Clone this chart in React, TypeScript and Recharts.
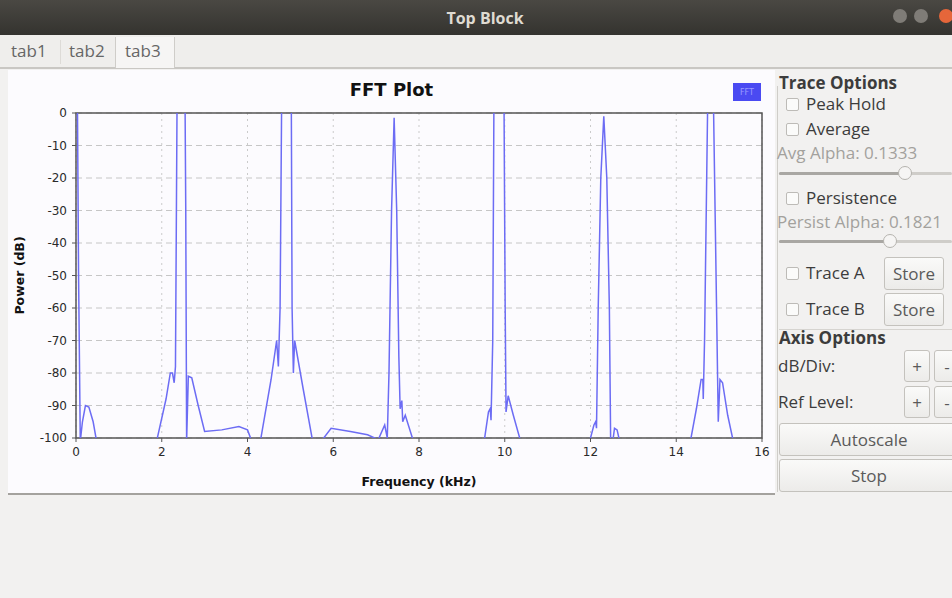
import React from 'react';
import {
  LineChart,
  Line,
  XAxis,
  YAxis,
  CartesianGrid,
  ReferenceArea,
} from 'recharts';

// FFT trace (kHz, dB). Values above 0 / below -100 are clipped by the plot.
const freqKHz = [
  0.0, 0.03, 0.06, 0.1, 0.15, 0.22, 0.3, 0.4, 0.48,
  1.88, 2.1, 2.2, 2.25, 2.29, 2.32, 2.36, 2.54, 2.56, 2.58, 2.62, 2.7, 2.85, 3.0, 3.4, 3.8, 4.0, 4.1,
  4.3, 4.55, 4.68, 4.72, 4.76, 4.8, 5.02, 5.04, 5.07, 5.1, 5.3, 5.52,
  5.72, 5.95, 6.4, 6.8, 7.05, 7.2, 7.26, 7.3, 7.36, 7.42, 7.48, 7.53, 7.56, 7.6, 7.62, 7.68, 7.87,
  9.52, 9.62, 9.66, 9.68, 9.72, 9.75, 9.98, 10.01, 10.03, 10.08, 10.2, 10.37,
  11.98, 12.08, 12.12, 12.14, 12.18, 12.24, 12.31, 12.38, 12.44, 12.47, 12.52, 12.56, 12.62, 12.68,
  14.33, 14.47, 14.58, 14.62, 14.63, 14.66, 14.74, 14.86, 14.94, 14.98, 15.02, 15.08, 15.2, 15.33, 16.0,
];
const powerDb = [
  10, 10, -50, -101, -95, -90, -90.5, -95, -101,
  -101, -88, -80, -80, -83, -78, 10, 10, -30, -101, -81, -81.5, -90, -98, -97.5, -96.5, -97.5, -101,
  -101, -82, -70, -78, -60, 10, 10, -60, -80, -70, -85, -101,
  -101, -97, -98, -99, -100.5, -96, -100, -80, -30, -1.5, -30, -75, -91, -88.5, -95, -93, -101,
  -101, -92, -91, -94.5, -70, 10, 10, -60, -92, -87, -93, -101,
  -101, -96, -95, -97, -60, -20, -1, -20, -60, -101, -101, -97, -97.5, -101,
  -101, -91, -82, -82, -88, -70, 10, 10, -60, -95, -82, -83, -93, -101, -101,
];
const xTicks = [0, 2, 4, 6, 8, 10, 12, 14, 16];
const yTicks = [0, -10, -20, -30, -40, -50, -60, -70, -80, -90, -100];

const data = freqKHz.map((f, i) => ({ f, p: powerDb[i] }));

const ui = '"Open Sans", "Noto Sans", sans-serif';
const plotFont = '"DejaVu Sans", sans-serif';

// text placed by its vertical centre
const Txt: React.FC<{ left: number; cy: number; size?: number; bold?: boolean; color?: string; children: React.ReactNode }> = ({
  left,
  cy,
  size = 17,
  bold,
  color = '#3c3c3c',
  children,
}) => (
  <div
    style={{
      position: 'absolute',
      left,
      top: cy - 12,
      height: 24,
      lineHeight: '24px',
      fontSize: size,
      fontWeight: bold ? 700 : 400,
      color,
      whiteSpace: 'nowrap',
    }}
  >
    {children}
  </div>
);

const Check: React.FC<{ cy: number; label: string }> = ({ cy, label }) => (
  <>
    <div
      style={{
        position: 'absolute',
        left: 786,
        top: cy - 6,
        width: 11,
        height: 11,
        border: '1px solid #bdbbb7',
        borderRadius: 2,
        background: '#fbfbfa',
      }}
    />
    <Txt left={806} cy={cy}>
      {label}
    </Txt>
  </>
);

const Button: React.FC<{ left: number; top: number; width: number; height: number; label: string }> = ({
  left,
  top,
  width,
  height,
  label,
}) => (
  <div
    style={{
      position: 'absolute',
      left,
      top,
      width,
      height,
      boxSizing: 'border-box',
      border: '1px solid #c4c2bd',
      borderRadius: 3,
      background: 'linear-gradient(#fafaf9, #ecebe9)',
      color: '#5a5a5a',
      fontSize: 17,
      display: 'flex',
      alignItems: 'center',
      justifyContent: 'center',
    }}
  >
    {label}
  </div>
);

const Slider: React.FC<{ top: number; handle: number }> = ({ top, handle }) => (
  <>
    <div
      style={{
        position: 'absolute',
        left: 779,
        top,
        width: 173,
        height: 3,
        background: '#cfcdc9',
        borderRadius: 2,
      }}
    />
    <div
      style={{
        position: 'absolute',
        left: 779,
        top,
        width: handle - 779,
        height: 3,
        background: '#a9a7a3',
        borderRadius: 2,
      }}
    />
    <div
      style={{
        position: 'absolute',
        left: handle - 7,
        top: top - 6,
        width: 14,
        height: 14,
        borderRadius: 7,
        boxSizing: 'border-box',
        border: '1px solid #b5b3ae',
        background: '#f6f5f4',
      }}
    />
  </>
);

export default function App() {
  return (
    <div
      style={{
        position: 'fixed',
        left: 0,
        top: 0,
        width: 952,
        height: 598,
        background: '#f2f1f0',
        fontFamily: ui,
        overflow: 'hidden',
      }}
    >
      {/* window title bar */}
      <div
        style={{
          position: 'absolute',
          left: 0,
          top: 0,
          width: 952,
          height: 35,
          background: 'linear-gradient(#4a4843, #34332f)',
          color: '#dfdbd2',
          fontWeight: 700,
          fontSize: 16,
          display: 'flex',
          alignItems: 'center',
          justifyContent: 'center',
          paddingLeft: 18,
          boxSizing: 'border-box',
        }}
      >
        Top Block
      </div>
      {[900, 921].map((cx) => (
        <div
          key={cx}
          style={{
            position: 'absolute',
            left: cx - 7,
            top: 9,
            width: 14,
            height: 14,
            borderRadius: 7,
            background: '#7f7c77',
          }}
        />
      ))}
      <div
        style={{
          position: 'absolute',
          left: 939,
          top: 9,
          width: 14,
          height: 14,
          borderRadius: 7,
          background: '#e5663a',
        }}
      />

      {/* tab bar */}
      <div
        style={{
          position: 'absolute',
          left: 0,
          top: 35,
          width: 952,
          height: 32,
          background: '#efeeec',
          borderBottom: '2px solid #c9c7c3',
        }}
      />
      <div
        style={{
          position: 'absolute',
          left: 115,
          top: 37,
          width: 58,
          height: 31,
          background: '#f6f5f4',
          borderLeft: '1px solid #cfcdc9',
          borderRight: '1px solid #cfcdc9',
        }}
      />
      <div style={{ position: 'absolute', left: 60, top: 40, width: 1, height: 24, background: '#dddbd7' }} />
      <Txt left={11} cy={51} size={17} color="#666">tab1</Txt>
      <Txt left={69} cy={51} size={17} color="#666">tab2</Txt>
      <Txt left={125} cy={51} size={17} color="#666">tab3</Txt>

      {/* plot widget */}
      <div
        style={{
          position: 'absolute',
          left: 8,
          top: 70,
          width: 767,
          height: 423,
          background: '#fcfbfe',
          borderBottom: '2px solid #a4a29e',
        }}
      >
        <div
          style={{
            position: 'absolute',
            left: 0,
            width: 767,
            top: 9,
            textAlign: 'center',
            fontFamily: plotFont,
            fontWeight: 700,
            fontSize: 18,
            color: '#111',
          }}
        >
          FFT Plot
        </div>
        <div
          style={{
            position: 'absolute',
            left: 725,
            top: 13,
            width: 28,
            height: 18,
            background: '#4a4af2',
            color: '#9a9aff',
            fontSize: 8,
            fontFamily: plotFont,
            display: 'flex',
            alignItems: 'center',
            justifyContent: 'center',
          }}
        >
          FFT
        </div>
        <LineChart
          width={767}
          height={423}
          data={data}
          margin={{ top: 43, right: 13, bottom: 0, left: 0 }}
          style={{ fontFamily: plotFont }}
        >
          <CartesianGrid horizontal vertical={false} stroke="#c6c6c6" strokeDasharray="6 4" />
          <CartesianGrid horizontal={false} vertical stroke="#cbcbcb" strokeDasharray="2 4" />
          <XAxis
            dataKey="f"
            type="number"
            domain={[0, 16]}
            ticks={xTicks}
            allowDataOverflow
            axisLine={false}
            tickLine={{ stroke: '#555' }}
            tickSize={4}
            tickMargin={5}
            height={55}
            tick={{ fontSize: 12, fill: '#2a2a2a' }}
            label={{
              value: 'Frequency (kHz)',
              position: 'insideBottom',
              offset: 7,
              style: { fontSize: 12.5, fontWeight: 700, fill: '#111' },
            }}
          />
          <YAxis
            type="number"
            domain={[-100, 0]}
            ticks={yTicks}
            allowDataOverflow
            axisLine={false}
            tickLine={{ stroke: '#555' }}
            tickSize={4}
            tickMargin={5}
            width={68}
            tick={{ fontSize: 12, fill: '#2a2a2a' }}
            label={{
              value: 'Power (dB)',
              angle: -90,
              position: 'insideLeft',
              offset: 12,
              style: { fontSize: 12.5, fontWeight: 700, fill: '#111', textAnchor: 'middle' },
            }}
          />
          <ReferenceArea x1={0} x2={16} y1={-100} y2={0} fill="none" stroke="#555" strokeWidth={1.5} />
          <Line
            type="linear"
            dataKey="p"
            stroke="#6c6cf4"
            strokeWidth={1.5}
            dot={false}
            isAnimationActive={false}
          />
        </LineChart>
      </div>

      {/* right side control panel */}
      <div
        style={{
          position: 'absolute',
          left: 777,
          top: 86,
          width: 1,
          height: 406,
          background: '#cfcdc9',
        }}
      />
      <Txt left={779} cy={83} bold>Trace Options</Txt>
      <Check cy={104} label="Peak Hold" />
      <Check cy={129} label="Average" />
      <Txt left={777} cy={153} color="#a3a19d">Avg Alpha: 0.1333</Txt>
      <Slider top={172} handle={905} />
      <Check cy={198} label="Persistence" />
      <Txt left={777} cy={222} color="#a3a19d">Persist Alpha: 0.1821</Txt>
      <Slider top={240} handle={890} />
      <Check cy={273} label="Trace A" />
      <Button left={884} top={257} width={60} height={33} label="Store" />
      <Check cy={309} label="Trace B" />
      <Button left={884} top={293} width={60} height={33} label="Store" />
      <div style={{ position: 'absolute', left: 779, top: 329, width: 173, height: 1, background: '#d6d4d0' }} />
      <Txt left={779} cy={338} bold>Axis Options</Txt>
      <Txt left={778} cy={366}>dB/Div:</Txt>
      <Button left={904} top={350} width={26} height={32} label="+" />
      <Button left={934} top={350} width={26} height={32} label="-" />
      <Txt left={778} cy={402}>Ref Level:</Txt>
      <Button left={904} top={386} width={26} height={32} label="+" />
      <Button left={934} top={386} width={26} height={32} label="-" />
      <Button left={779} top={423} width={180} height={33} label="Autoscale" />
      <Button left={779} top={459} width={180} height={33} label="Stop" />
    </div>
  );
}
